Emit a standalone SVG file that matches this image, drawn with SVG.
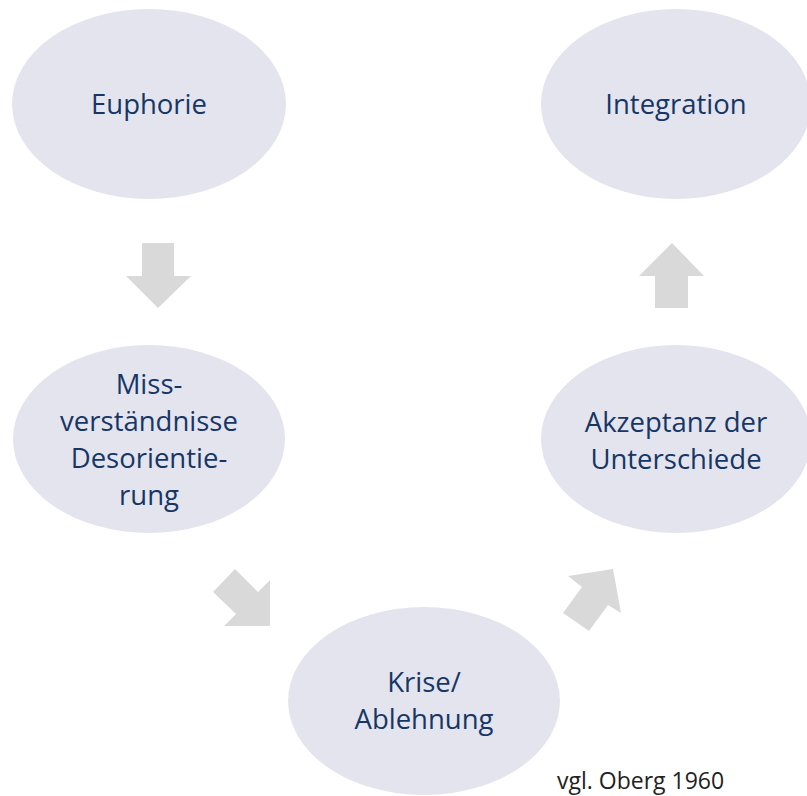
<svg xmlns="http://www.w3.org/2000/svg" width="807" height="796" viewBox="0 0 807 796">
<style>
.node ellipse{fill:#e4e4ef}
.node text{font-family:"Open Sans","Noto Sans",sans-serif;font-size:27.5px;fill:#163766;text-anchor:middle}
.arr polygon{fill:#d9d9d9}
.cite{font-family:"Open Sans","Noto Sans",sans-serif;font-size:23px;fill:#222}
</style>
<rect width="807" height="796" fill="#fff"/>
<g id="euphorie" class="node"><ellipse cx="149" cy="104" rx="137" ry="95"/><text x="149" y="114">Euphorie</text></g>
<g id="integration" class="node"><ellipse cx="676" cy="104" rx="135" ry="95"/><text x="676" y="114">Integration</text></g>
<g id="missverstaendnisse" class="node"><ellipse cx="149" cy="439" rx="136" ry="94"/><text x="149" y="394">Miss-</text><text x="149" y="431">verständnisse</text><text x="149" y="468">Desorientie-</text><text x="149" y="505">rung</text></g>
<g id="akzeptanz" class="node"><ellipse cx="676" cy="439" rx="135" ry="94"/><text x="676" y="432">Akzeptanz der</text><text x="676" y="469">Unterschiede</text></g>
<g id="krise" class="node"><ellipse cx="424" cy="701" rx="136" ry="94"/><text x="424" y="692">Krise/</text><text x="424" y="729">Ablehnung</text></g>
<g id="connectors" class="arr">
<polygon points="142,243 174,243 174,276 191,276 158,308 126,276 142,276"/>
<polygon points="213,592 235,569 258,592 270,580 270,626 224,626 236,614"/>
<polygon points="568,576 613,569 621,613 608,605 589,631 563,613 582,587"/>
<polygon points="672,243 704,276 688,276 688,308 655,308 655,276 639,276"/>
</g>
<text class="cite" x="557" y="789">vgl. Oberg 1960</text>
</svg>
